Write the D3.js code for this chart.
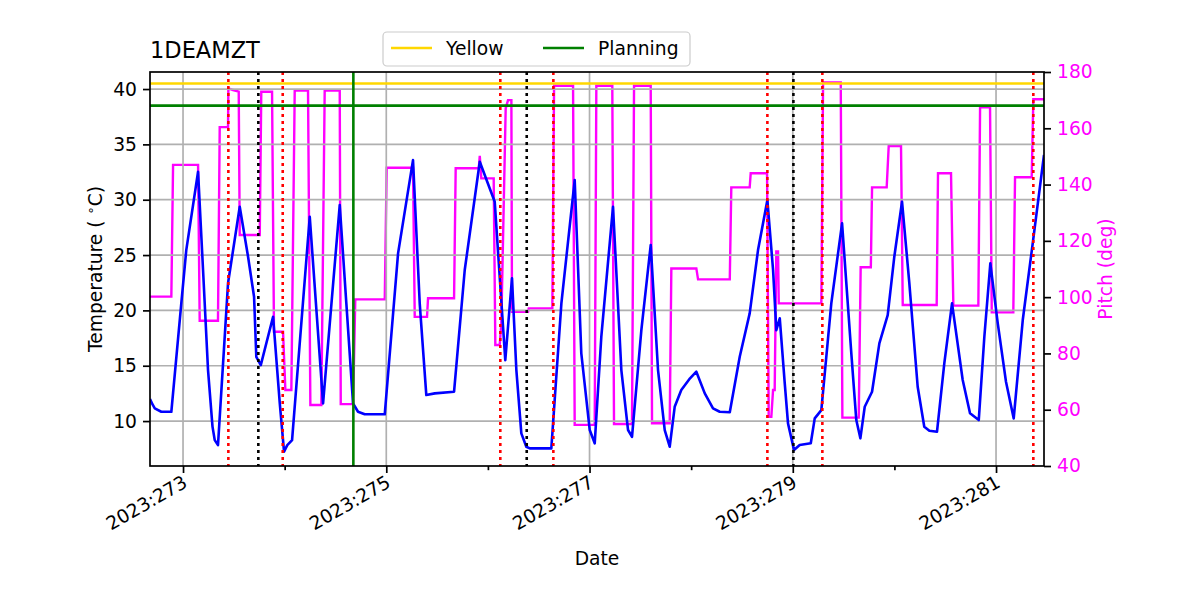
<!doctype html>
<html lang="en">
<head>
<meta charset="UTF-8" />
<title>1DEAMZT</title>
<style>
  body { margin: 0; background: #fff; }
  svg { display: block; font-family: "DejaVu Sans", sans-serif; }
</style>
</head>
<body>
<svg id="chart" width="1200" height="600"></svg>
<script src="https://d3js.org/d3.v7.min.js"></script>
<script>
// day-of-year 2023 (fractional) and readings
const tempTime = [272.675, 272.70, 272.722, 272.786, 272.885, 272.983, 273.032, 273.148, 273.197, 273.246,
  273.29, 273.312, 273.344, 273.443, 273.558, 273.640, 273.699, 273.721, 273.765, 273.886,
  273.952, 273.994, 274.026, 274.073, 274.247, 274.378, 274.542, 274.607, 274.673, 274.722,
  274.788, 274.985, 275.116, 275.263, 275.329, 275.394, 275.477, 275.667, 275.772, 275.920,
  276.067, 276.116, 276.171, 276.237, 276.280, 276.329, 276.378, 276.412, 276.624, 276.723,
  276.854, 276.919, 277.002, 277.051, 277.116, 277.231, 277.313, 277.379, 277.418, 277.510,
  277.602, 277.674, 277.740, 277.789, 277.838, 277.903, 277.989, 278.051, 278.134, 278.215,
  278.281, 278.380, 278.478, 278.576, 278.658, 278.750, 278.806, 278.838, 278.872, 278.921,
  278.953, 279.012, 279.068, 279.177, 279.216, 279.281, 279.379, 279.485, 279.576, 279.625,
  279.665, 279.708, 279.780, 279.852, 279.934, 279.999, 280.075, 280.147, 280.229, 280.294,
  280.344, 280.419, 280.491, 280.567, 280.672, 280.744, 280.830, 280.885, 280.944, 281.017,
  281.098, 281.174, 281.263, 281.361, 281.472];
const tempValue = [12.0, 11.5, 11.15, 10.84, 10.84, 20.64, 25.45, 32.53, 23.65, 14.61,
  9.5, 8.28, 7.83, 22.47, 29.36, 24.85, 21.23, 15.81, 15.06, 19.43,
  11.60, 7.23, 7.83, 8.28, 28.46, 11.60, 29.52, 20.64, 11.60, 10.84,
  10.61, 10.61, 25.15, 33.58, 20.64, 12.35, 12.50, 12.65, 23.65, 33.43,
  29.82, 23.04, 15.51, 22.90, 14.61, 8.89, 7.68, 7.53, 7.53, 20.64,
  31.78, 16.12, 9.19, 7.99, 17.62, 29.36, 14.61, 9.19, 8.58, 18.22,
  25.90, 14.61, 9.19, 7.68, 11.29, 12.80, 13.86, 14.46, 12.50, 11.15,
  10.84, 10.79, 15.81, 19.73, 25.45, 29.97, 23.65, 18.22, 19.28, 13.41,
  9.79, 7.38, 7.83, 7.99, 10.24, 10.99, 20.64, 27.86, 16.12, 10.09,
  8.44, 11.29, 12.65, 17.02, 19.58, 24.85, 29.82, 22.44, 13.10, 9.49,
  9.12, 9.03, 15.21, 20.64, 13.71, 10.70, 10.09, 17.62, 24.25, 18.83,
  13.55, 10.24, 19.13, 26.06, 34.04];

const pitchTime = [272.675, 272.885, 272.902, 273.148, 273.164, 273.344, 273.361, 273.443, 273.446, 273.492,
  273.548, 273.558, 273.755, 273.770, 273.876, 273.895, 273.984, 274.007, 274.066, 274.099,
  274.230, 274.253, 274.361, 274.394, 274.542, 274.552, 274.673, 274.695, 274.985, 275.004,
  275.263, 275.280, 275.401, 275.411, 275.667, 275.683, 275.910, 275.920, 275.935, 276.057,
  276.073, 276.116, 276.132, 276.175, 276.198, 276.231, 276.237, 276.395, 276.402, 276.634,
  276.651, 276.838, 276.854, 277.051, 277.067, 277.224, 277.241, 277.418, 277.438, 277.602,
  277.615, 277.789, 277.805, 278.051, 278.068, 278.380, 278.395, 278.576, 278.586, 278.747,
  278.763, 278.789, 278.806, 278.822, 278.838, 278.855, 278.862, 279.281, 279.298, 279.472,
  279.488, 279.649, 279.668, 279.768, 279.780, 279.924, 279.944, 280.065, 280.082, 280.416,
  280.429, 280.557, 280.580, 280.826, 280.843, 280.941, 280.958, 281.170, 281.187, 281.351,
  281.367, 281.472];
const pitchValue = [100.2, 100.2, 147.0, 147.0, 91.6, 91.6, 160.4, 160.4, 174.2, 173.6,
  173.0, 122.1, 122.1, 173.0, 173.0, 87.7, 87.7, 67.0, 67.0, 173.4,
  173.4, 61.7, 61.7, 173.4, 173.4, 62.0, 62.0, 99.2, 99.2, 146.0,
  146.0, 93.0, 93.0, 99.6, 99.6, 145.8, 145.8, 150.2, 142.2, 142.2,
  83.0, 83.0, 90.7, 167.1, 170.0, 170.0, 94.8, 94.8, 96.0, 96.0,
  175.1, 175.1, 54.6, 54.6, 175.1, 175.1, 54.9, 54.9, 175.1, 175.1,
  55.2, 55.2, 110.2, 110.2, 106.3, 106.3, 139.0, 139.0, 144.0, 144.0,
  57.5, 57.5, 67.0, 67.0, 116.2, 116.2, 97.8, 97.8, 176.3, 176.3,
  57.2, 57.2, 110.6, 110.6, 139.0, 139.0, 153.7, 153.7, 97.2, 97.2,
  144.0, 144.0, 97.0, 97.0, 167.5, 167.5, 94.6, 94.6, 142.6, 142.6,
  170.3, 170.3];

const yellowLimit = 40.5;
const planningLimit = 38.5;
const planningTime = 274.676;
const redTimes = [273.446, 273.981, 276.122, 276.644, 278.750, 279.291, 281.367];
const blackTimes = [273.741, 276.382, 279.006];

const dayTicks = [273, 274, 275, 276, 277, 278, 279, 280, 281];
const tempTicks = [10, 15, 20, 25, 30, 35, 40];
const pitchTicks = [40, 60, 80, 100, 120, 140, 160, 180];

const pLeft = 150, pRight = 1044, pTop = 72, pBottom = 466;
const svg = d3.select("#chart");

const x = d3.scaleLinear().domain([272.675, 281.472]).range([pLeft, pRight]);
const yT = d3.scaleLinear().domain([5.94, 41.54]).range([pBottom, pTop]);
const yP = d3.scaleLinear().domain([40, 180]).range([pBottom, pTop]);

const plot = svg.append("g");
plot.append("clipPath").attr("id", "clip")
  .append("rect").attr("x", pLeft).attr("y", pTop).attr("width", pRight - pLeft).attr("height", pBottom - pTop);

// pitch (twin axis) under the primary axes
plot.append("path")
  .datum(pitchTime.map((t, i) => [t, pitchValue[i]]))
  .attr("clip-path", "url(#clip)")
  .attr("fill", "none").attr("stroke", "magenta").attr("stroke-width", 2.4)
  .attr("d", d3.line().x(d => x(d[0])).y(d => yP(d[1])));

// grid
plot.append("g").selectAll("line").data(tempTicks).join("line")
  .attr("x1", pLeft).attr("x2", pRight).attr("y1", d => yT(d)).attr("y2", d => yT(d))
  .attr("stroke", "#b0b0b0").attr("stroke-width", 1.7);
plot.append("g").selectAll("line").data(dayTicks.filter(d => d % 2)).join("line")
  .attr("x1", d => x(d)).attr("x2", d => x(d)).attr("y1", pTop).attr("y2", pBottom)
  .attr("stroke", "#b0b0b0").attr("stroke-width", 1.7);

// temperature
plot.append("path")
  .datum(tempTime.map((t, i) => [t, tempValue[i]]))
  .attr("clip-path", "url(#clip)")
  .attr("fill", "none").attr("stroke", "blue").attr("stroke-width", 2.6)
  .attr("stroke-linejoin", "round")
  .attr("d", d3.line().x(d => x(d[0])).y(d => yT(d[1])));

// limits
plot.append("line").attr("x1", pLeft).attr("x2", pRight)
  .attr("y1", yT(yellowLimit)).attr("y2", yT(yellowLimit))
  .attr("stroke", "gold").attr("stroke-width", 2.6);
plot.append("line").attr("x1", pLeft).attr("x2", pRight)
  .attr("y1", yT(planningLimit)).attr("y2", yT(planningLimit))
  .attr("stroke", "green").attr("stroke-width", 2.6);
plot.append("line").attr("x1", x(planningTime)).attr("x2", x(planningTime))
  .attr("y1", pTop).attr("y2", pBottom)
  .attr("stroke", "green").attr("stroke-width", 2.6);

// event markers
plot.append("g").selectAll("line").data(redTimes).join("line")
  .attr("x1", d => x(d)).attr("x2", d => x(d)).attr("y1", pTop).attr("y2", pBottom)
  .attr("stroke", "red").attr("stroke-width", 2.6).attr("stroke-dasharray", "3,4");
plot.append("g").selectAll("line").data(blackTimes).join("line")
  .attr("x1", d => x(d)).attr("x2", d => x(d)).attr("y1", pTop).attr("y2", pBottom)
  .attr("stroke", "black").attr("stroke-width", 2.6).attr("stroke-dasharray", "3,4");

// frame
svg.append("rect").attr("x", pLeft).attr("y", pTop).attr("width", pRight - pLeft).attr("height", pBottom - pTop)
  .attr("fill", "none").attr("stroke", "black").attr("stroke-width", 1.7);

// axes
const fs = 18.7;
const xAxis = svg.append("g").attr("transform", `translate(0,${pBottom})`)
  .call(d3.axisBottom(x).tickValues(dayTicks).tickSize(7).tickPadding(7)
    .tickFormat(d => d % 2 ? "2023:" + d : ""));
xAxis.select(".domain").remove();
xAxis.selectAll(".tick line").attr("stroke-width", 1.7).attr("y2", d => d % 2 ? 7 : 4.2);
xAxis.selectAll(".tick text")
  .attr("font-size", fs).attr("font-family", "DejaVu Sans").attr("fill", "black")
  .attr("text-anchor", "end").attr("x", 0).attr("y", 0).attr("dy", null)
  .attr("transform", "translate(5,20) rotate(-30)");

const yAxisL = svg.append("g").attr("transform", `translate(${pLeft},0)`)
  .call(d3.axisLeft(yT).tickValues(tempTicks).tickSize(7).tickPadding(6));
yAxisL.select(".domain").remove();
yAxisL.selectAll(".tick line").attr("stroke-width", 1.7);
yAxisL.selectAll(".tick text").attr("font-size", fs).attr("font-family", "DejaVu Sans").attr("fill", "black");

const yAxisR = svg.append("g").attr("transform", `translate(${pRight},0)`)
  .call(d3.axisRight(yP).tickValues(pitchTicks).tickSize(7).tickPadding(6));
yAxisR.select(".domain").remove();
yAxisR.selectAll(".tick line").attr("stroke-width", 1.7);
yAxisR.selectAll(".tick text").attr("font-size", fs).attr("font-family", "DejaVu Sans").attr("fill", "magenta");

// labels
svg.append("text").attr("x", pLeft).attr("y", 58).attr("font-size", 22.5).text("1DEAMZT");
svg.append("text").attr("x", (pLeft + pRight) / 2).attr("y", 565).attr("text-anchor", "middle")
  .attr("font-size", fs).text("Date");
const tl = svg.append("text").attr("transform", `translate(102,${(pTop + pBottom) / 2}) rotate(-90)`)
  .attr("text-anchor", "middle").attr("font-size", fs);
tl.append("tspan").text("Temperature ( ");
tl.append("tspan").attr("font-size", 13).attr("dy", -7).text("\u2218");
tl.append("tspan").attr("dy", 7).text("C)");
svg.append("text").attr("transform", `translate(1112,${(pTop + pBottom) / 2}) rotate(-90)`)
  .attr("text-anchor", "middle").attr("font-size", fs).attr("fill", "magenta").text("Pitch (deg)");

// legend
const legendItems = [{ name: "Yellow", color: "gold" }, { name: "Planning", color: "green" }];
const lg = svg.append("g");
lg.append("rect").attr("x", 383).attr("y", 32).attr("width", 307).attr("height", 34).attr("rx", 4)
  .attr("fill", "white").attr("fill-opacity", 0.8).attr("stroke", "#cccccc").attr("stroke-width", 1.2);
const item = lg.selectAll("g.item").data(legendItems).join("g")
  .attr("transform", (d, i) => `translate(${391 + i * 152},48)`);
item.append("line").attr("x1", 0).attr("x2", 41).attr("stroke", d => d.color).attr("stroke-width", 2.6);
item.append("text").attr("x", 55).attr("y", 6.5).attr("font-size", fs).text(d => d.name);
</script>
</body>
</html>
